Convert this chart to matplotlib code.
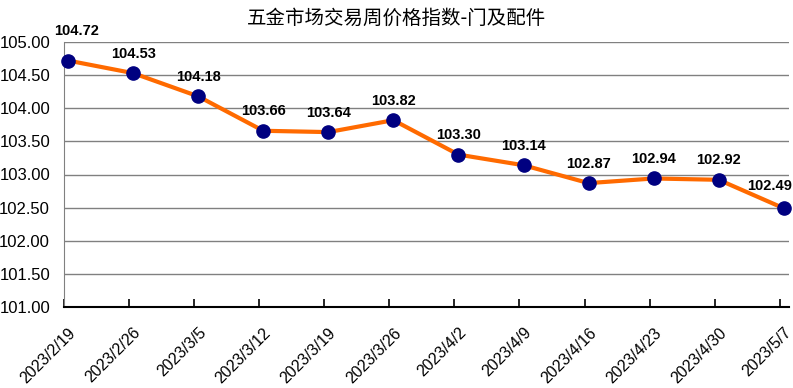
import matplotlib
matplotlib.use("Agg")
import matplotlib.pyplot as plt

plt.rcParams['font.family'] = ['Liberation Sans', 'Noto Sans CJK SC', 'DejaVu Sans']

title = "五金市场交易周价格指数-门及配件"
dates = ["2023/2/19", "2023/2/26", "2023/3/5", "2023/3/12", "2023/3/19", "2023/3/26",
         "2023/4/2", "2023/4/9", "2023/4/16", "2023/4/23", "2023/4/30", "2023/5/7"]
values = [104.72, 104.53, 104.18, 103.66, 103.64, 103.82,
          103.30, 103.14, 102.87, 102.94, 102.92, 102.49]
yticks = [101.00, 101.50, 102.00, 102.50, 103.00, 103.50, 104.00, 104.50, 105.00]

W, H = 793, 388
fig = plt.figure(figsize=(W/100, H/100), dpi=100)
ax = fig.add_axes([64/W, 1-307/H, (789-64)/W, (307-42)/H])

x = list(range(len(values)))
ax.plot(x, values, color='#FF6A00', lw=3, zorder=3, clip_on=False)
ax.plot(x, values, 'o', color='#000080', ms=9.5, zorder=4, clip_on=False)
n = len(values)
for i, (xi, v) in enumerate(zip(x, values)):
    dx, dy = 0, 14
    if i == 0:
        dx, dy = 6, 21
    elif i == n - 1:
        dx, dy = -10, 16
    ax.annotate(f"{v:.2f}", (xi, v), xytext=(dx, dy), textcoords='offset points',
                ha='center', va='center', fontsize=10.5, fontweight='bold', color='black')

ax.set_ylim(101, 105)
ax.set_xlim(-0.062, 11.08)
ax.set_yticks(yticks)
ax.set_yticklabels([f"{t:.2f}" for t in yticks], fontsize=12)

# tick marks (minor) at category boundaries, labels (major) slightly right
ax.set_xticks([i - 0.062 for i in x], minor=True)
ax.set_xticks([i + 0.0 for i in x])
ax.set_xticklabels(dates, rotation=45, ha='right', rotation_mode='anchor', fontsize=11.5)
ax.tick_params(axis='y', length=0, pad=10)
ax.tick_params(axis='x', which='major', length=0, pad=13)
ax.tick_params(axis='x', which='minor', length=6, direction='in', width=1.2, color='black')
ax.grid(axis='y', color='#808080', lw=1)
ax.set_axisbelow(True)
for s in ['top', 'right']:
    ax.spines[s].set_visible(False)
ax.spines['left'].set_color('#808080')
ax.spines['bottom'].set_color('black')
ax.spines['bottom'].set_linewidth(1.5)

fig.text(0.5, 1-18/H, title, ha='center', va='center', fontsize=14,
         family=['Noto Sans CJK SC', 'DejaVu Sans'])

fig.savefig("out.png", dpi=100)
